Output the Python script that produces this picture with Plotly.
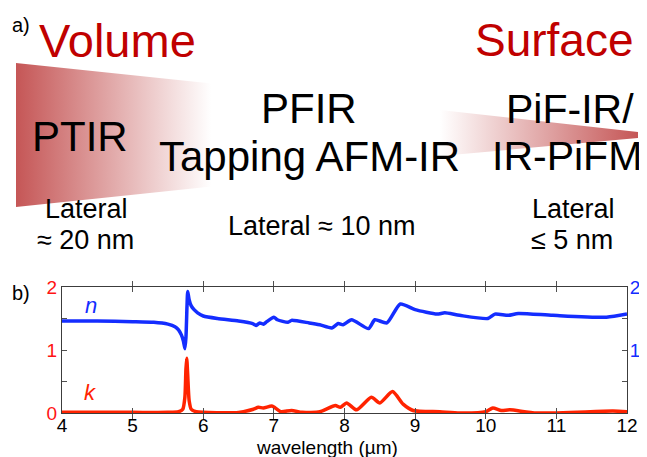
import plotly.graph_objects as go

# ---- data ----
n_wl = [4.0, 4.5, 5.0, 5.3, 5.5, 5.6, 5.65, 5.69, 5.72, 5.74, 5.755, 5.77, 5.78, 5.80, 5.83, 5.87,
        5.92, 6.0, 6.2, 6.5, 6.7, 6.75, 6.8, 6.85, 6.9, 7.0, 7.05, 7.2, 7.25, 7.5, 7.65, 7.82,
        7.91, 7.98, 8.10, 8.34, 8.43, 8.60, 8.79, 9.0, 9.31, 9.42, 9.63, 10.03, 10.13, 10.32,
        10.46, 10.95, 11.71, 12.0]
n_val = [1.46, 1.46, 1.45, 1.44, 1.41, 1.37, 1.32, 1.24, 1.14, 1.02, 1.20, 1.70, 1.93, 1.80, 1.70, 1.64,
         1.59, 1.54, 1.50, 1.46, 1.42, 1.39, 1.43, 1.41, 1.45, 1.52, 1.48, 1.44, 1.47, 1.43, 1.40, 1.35,
         1.42, 1.40, 1.48, 1.34, 1.48, 1.43, 1.73, 1.64, 1.57, 1.59, 1.55, 1.50, 1.57, 1.55,
         1.58, 1.55, 1.52, 1.57]

k_wl = [4.0, 5.0, 5.5, 5.65, 5.71, 5.74, 5.755, 5.766, 5.78, 5.80, 5.83, 5.9, 6.5, 6.71, 6.78, 6.85,
        6.97, 7.02, 7.1, 7.25, 7.4, 7.65, 7.87, 7.94, 8.03, 8.17, 8.38, 8.50, 8.68, 8.83, 8.97,
        9.35, 9.63, 10.0, 10.1, 10.22, 10.34, 10.72, 11.8, 12.0]
k_val = [0.01, 0.01, 0.01, 0.02, 0.06, 0.25, 0.70, 0.87, 0.60, 0.20, 0.06, 0.02, 0.01, 0.06, 0.09, 0.08,
         0.11, 0.08, 0.02, 0.04, 0.01, 0.02, 0.12, 0.09, 0.16, 0.05, 0.25, 0.16, 0.34, 0.14, 0.04,
         0.02, 0.00, 0.02, 0.08, 0.04, 0.05, 0.00, 0.03, 0.02]

x_ticks = [4, 5, 6, 7, 8, 9, 10, 11, 12]
y_ticks = [0, 0.5, 1, 1.5, 2]
left_labels = ["0", "", "1", "", "2"]
right_labels = ["", "", "1", "", "2"]

# schematic wedges (page pixel space of the top panel)
left_wedge_x = [16, 226, 226, 16, 16]
left_wedge_y = [63, 85, 185, 207, 63]
right_wedge_x = [440, 638, 638, 440, 440]
right_wedge_y = [110, 132, 138, 156, 110]

FONT = "Arial, Liberation Sans, sans-serif"
DARK_RED = "rgb(192,0,0)"
WEDGE = "rgb(197,86,86)"
BLUE = "rgb(20,45,255)"
RED = "rgb(255,35,0)"

fig = go.Figure()

fig.add_trace(go.Scatter(
    x=left_wedge_x, y=left_wedge_y, xaxis="x3", yaxis="y3", mode="lines",
    line=dict(width=0), fill="toself", hoverinfo="skip",
    fillgradient=dict(type="horizontal",
                      colorscale=[[0, WEDGE], [0.93, "rgb(255,255,255)"], [1, "rgb(255,255,255)"]]),
    showlegend=False))
fig.add_trace(go.Scatter(
    x=right_wedge_x, y=right_wedge_y, xaxis="x3", yaxis="y3", mode="lines",
    line=dict(width=0), fill="toself", hoverinfo="skip",
    fillgradient=dict(type="horizontal",
                      colorscale=[[0, "rgb(255,255,255)"], [1, WEDGE]]),
    showlegend=False))

fig.add_trace(go.Scatter(x=n_wl, y=n_val, mode="lines", yaxis="y2",
                         line=dict(color=BLUE, width=3.5, shape="spline", smoothing=0.6),
                         showlegend=False))
fig.add_trace(go.Scatter(x=k_wl, y=k_val, mode="lines", yaxis="y",
                         line=dict(color=RED, width=3.5, shape="spline", smoothing=0.6),
                         showlegend=False))

PAGE_W, PAGE_H = 647, 457
OFF = 8                      # default page body margin
W, H = PAGE_W - OFF, PAGE_H - OFF
x0, x1 = 62, 627             # plot box in page pixels
y_top, y_bot = 287, 413

axis_common = dict(showline=True, linecolor="rgb(60,60,60)", linewidth=1, ticks="inside",
                   ticklen=5, tickcolor="rgb(80,80,80)", showgrid=False, zeroline=False,
                   automargin=False)

fig.update_layout(
    template="none",
    width=W, height=H, margin=dict(l=0, r=0, t=0, b=0, pad=0),
    paper_bgcolor="white", plot_bgcolor="rgba(0,0,0,0)",
    font=dict(family=FONT, color="black"),
    xaxis=dict(domain=[(x0 - OFF) / W, (x1 - OFF) / W], range=[4, 12], tickvals=x_ticks,
               ticktext=[str(t) for t in x_ticks], mirror="allticks",
               tickfont=dict(size=19, color="black"), ticklabelstandoff=-5,
               anchor="y", **axis_common),
    yaxis=dict(domain=[(PAGE_H - y_bot) / H, (PAGE_H - y_top) / H], range=[0, 2],
               tickvals=y_ticks, ticktext=left_labels, anchor="x",
               tickfont=dict(size=19, color="rgb(255,20,20)"), **axis_common),
    yaxis2=dict(overlaying="y", side="right", range=[0, 2], tickvals=y_ticks,
                ticktext=right_labels, anchor="x", ticklabelstandoff=-2,
                tickfont=dict(size=19, color=BLUE), **axis_common),
    xaxis3=dict(domain=[0, 1], range=[OFF, PAGE_W], visible=False, anchor="y3",
                fixedrange=True, automargin=False),
    yaxis3=dict(domain=[0, 1], range=[PAGE_H, OFF], visible=False, anchor="x3",
                fixedrange=True, automargin=False),
)

def txt(x, y, s, size, color="black", italic=False):
    fig.add_annotation(x=x, y=y, xref="x3", yref="y3", text=s, showarrow=False,
                       xanchor="center", yanchor="middle",
                       font=dict(size=size, color=color, family=FONT,
                                 style="italic" if italic else "normal"))

txt(21, 25, "a)", 20)
txt(117, 40, "Volume", 47, DARK_RED)
txt(554, 40, "Surface", 46, DARK_RED)
txt(80, 136, "PTIR", 42)
txt(309, 108, "PFIR", 42)
txt(309, 156, "Tapping AFM-IR", 42)
txt(570, 109, "PiF-IR/", 41)
txt(567, 156, "IR-PiFM", 41)
txt(86, 209, "Lateral", 27)
txt(85, 240, "≈ 20 nm", 27)
txt(321, 226, "Lateral ≈ 10 nm", 27)
txt(573, 209, "Lateral", 27)
txt(572, 240, "≤ 5 nm", 27)
txt(21, 293, "b)", 20)
txt(91, 305, "n", 22, BLUE, italic=True)
txt(90, 392, "k", 22, RED, italic=True)
txt(327, 447, "wavelength (µm)", 19)

fig.write_html("out.html")
